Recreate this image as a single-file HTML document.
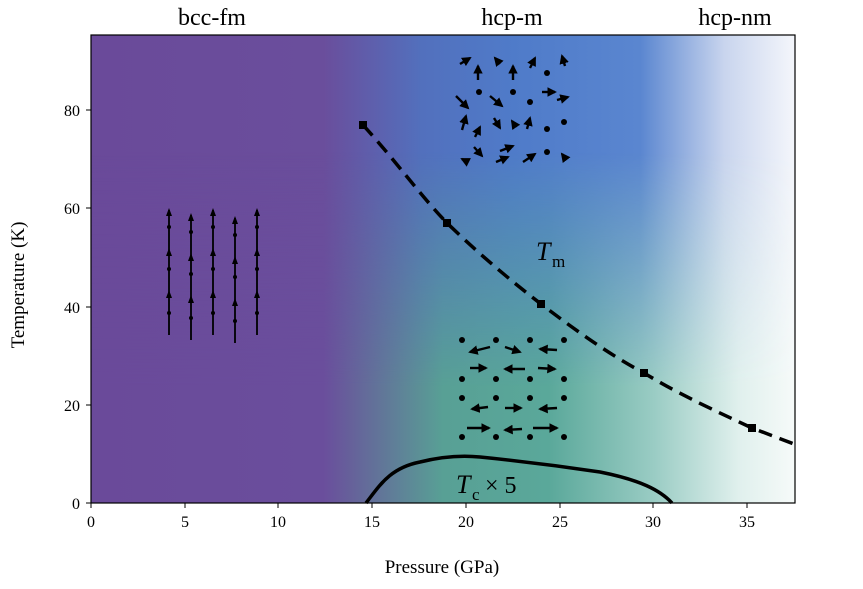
<!DOCTYPE html>
<html><head><style>body{margin:0;background:#fff}svg{display:block}text{font-family:"Liberation Serif",serif}</style></head><body>
<svg width="863" height="589" viewBox="0 0 863 589">
<defs>
<linearGradient id="top" x1="91" x2="795" gradientUnits="userSpaceOnUse">
<stop offset="0" stop-color="#6a4a9a"/><stop offset="0.33" stop-color="#6a4e9c"/><stop offset="0.47" stop-color="#5270bd"/><stop offset="0.6" stop-color="#4f7bc9"/><stop offset="0.78" stop-color="#5a86d0"/><stop offset="0.9" stop-color="#c9d5ee"/><stop offset="1" stop-color="#f4f6fb"/></linearGradient>
<linearGradient id="bot" x1="91" x2="795" gradientUnits="userSpaceOnUse">
<stop offset="0" stop-color="#6a4a9a"/><stop offset="0.33" stop-color="#6a4e9c"/><stop offset="0.5" stop-color="#58a095"/><stop offset="0.65" stop-color="#5aa89a"/><stop offset="0.8" stop-color="#9accc4"/><stop offset="0.92" stop-color="#e0f0ed"/><stop offset="1" stop-color="#f6faf9"/></linearGradient>
<linearGradient id="vm" x1="0" y1="35" x2="0" y2="503" gradientUnits="userSpaceOnUse"><stop offset="0.25" stop-color="#fff" stop-opacity="0"/><stop offset="0.75" stop-color="#fff" stop-opacity="1"/></linearGradient>
<mask id="m"><rect x="91" y="35" width="704" height="468" fill="url(#vm)"/></mask>
<marker id="ah" viewBox="0 0 10 10" refX="8" refY="5" markerWidth="4" markerHeight="4" orient="auto"><path d="M0,0L10,5L0,10z" fill="#000"/></marker>
</defs>
<rect x="91" y="35" width="704" height="468" fill="url(#top)"/>
<rect x="91" y="35" width="704" height="468" fill="url(#bot)" mask="url(#m)"/>
<rect x="91" y="35" width="704" height="468" fill="none" stroke="#000" stroke-width="1.2"/>
<g stroke="#000" stroke-width="1.8" fill="#000">
<g id="col"><line x1="169" y1="335" x2="169" y2="210"/>
<path d="M169,208l-3,8h6z M169,248l-3,8h6z M169,290l-3,8h6z" stroke="none"/>
<circle cx="169" cy="227" r="2" stroke="none"/><circle cx="169" cy="269" r="2" stroke="none"/><circle cx="169" cy="313" r="2" stroke="none"/></g>
<use href="#col" x="22" y="5"/><use href="#col" x="44"/><use href="#col" x="66" y="8"/><use href="#col" x="88"/>
</g>
<g fill="#000" stroke="#000" stroke-width="2.4">
<line x1="460" y1="64" x2="470" y2="58" marker-end="url(#ah)"/><line x1="478" y1="80" x2="478" y2="66" marker-end="url(#ah)"/>
<line x1="500" y1="64" x2="495" y2="58" marker-end="url(#ah)"/><line x1="513" y1="80" x2="513" y2="66" marker-end="url(#ah)"/>
<line x1="530" y1="68" x2="535" y2="58" marker-end="url(#ah)"/><line x1="565" y1="66" x2="562" y2="56" marker-end="url(#ah)"/>
<circle cx="479" cy="92" r="3" stroke="none"/><circle cx="513" cy="92" r="3" stroke="none"/><circle cx="547" cy="73" r="3" stroke="none"/><circle cx="530" cy="102" r="3" stroke="none"/><circle cx="564" cy="122" r="3" stroke="none"/><circle cx="547" cy="129" r="3" stroke="none"/><circle cx="547" cy="152" r="3" stroke="none"/>
<line x1="456" y1="96" x2="468" y2="108" marker-end="url(#ah)"/><line x1="490" y1="96" x2="502" y2="106" marker-end="url(#ah)"/>
<line x1="542" y1="92" x2="555" y2="92" marker-end="url(#ah)"/><line x1="557" y1="100" x2="568" y2="97" marker-end="url(#ah)"/>
<line x1="462" y1="130" x2="466" y2="116" marker-end="url(#ah)"/><line x1="494" y1="118" x2="500" y2="128" marker-end="url(#ah)"/>
<line x1="475" y1="137" x2="480" y2="127" marker-end="url(#ah)"/><line x1="516" y1="127" x2="512" y2="121" marker-end="url(#ah)"/>
<line x1="527" y1="129" x2="530" y2="118" marker-end="url(#ah)"/><line x1="474" y1="147" x2="482" y2="156" marker-end="url(#ah)"/>
<line x1="500" y1="151" x2="513" y2="146" marker-end="url(#ah)"/><line x1="523" y1="162" x2="535" y2="154" marker-end="url(#ah)"/>
<line x1="466" y1="161" x2="462" y2="159" marker-end="url(#ah)"/><line x1="496" y1="162" x2="508" y2="157" marker-end="url(#ah)"/>
<line x1="565" y1="158" x2="562" y2="154" marker-end="url(#ah)"/>
</g>
<g fill="#000" stroke="#000" stroke-width="2.4">
<g stroke="none"><circle cx="462" cy="340" r="3"/><circle cx="496" cy="340" r="3"/><circle cx="530" cy="340" r="3"/><circle cx="564" cy="340" r="3"/>
<circle cx="462" cy="379" r="3"/><circle cx="496" cy="379" r="3"/><circle cx="530" cy="379" r="3"/><circle cx="564" cy="379" r="3"/>
<circle cx="462" cy="398" r="3"/><circle cx="496" cy="398" r="3"/><circle cx="530" cy="398" r="3"/><circle cx="564" cy="398" r="3"/>
<circle cx="462" cy="437" r="3"/><circle cx="496" cy="437" r="3"/><circle cx="530" cy="437" r="3"/><circle cx="564" cy="437" r="3"/></g>
<line x1="490" y1="347" x2="470" y2="352" marker-end="url(#ah)"/><line x1="505" y1="347" x2="520" y2="352" marker-end="url(#ah)"/><line x1="557" y1="350" x2="540" y2="349" marker-end="url(#ah)"/>
<line x1="470" y1="368" x2="486" y2="368" marker-end="url(#ah)"/><line x1="525" y1="369" x2="505" y2="369" marker-end="url(#ah)"/><line x1="538" y1="368" x2="555" y2="369" marker-end="url(#ah)"/>
<line x1="488" y1="407" x2="472" y2="409" marker-end="url(#ah)"/><line x1="505" y1="408" x2="521" y2="408" marker-end="url(#ah)"/><line x1="557" y1="408" x2="540" y2="409" marker-end="url(#ah)"/>
<line x1="467" y1="428" x2="489" y2="428" marker-end="url(#ah)"/><line x1="522" y1="429" x2="505" y2="430" marker-end="url(#ah)"/><line x1="533" y1="428" x2="557" y2="428" marker-end="url(#ah)"/>
</g>
<path d="M363,125 C395,160 420,195 447,223 C480,255 510,280 541,304 C575,330 610,355 644,373 C680,395 720,413 752,428 L794,444" fill="none" stroke="#000" stroke-width="3.5" stroke-dasharray="14,8"/>
<g fill="#000"><rect x="359" y="121" width="8" height="8"/><rect x="443" y="219" width="8" height="8"/><rect x="537" y="300" width="8" height="8"/><rect x="640" y="369" width="8" height="8"/><rect x="748" y="424" width="8" height="8"/></g>
<path d="M366,503 C380,485 390,468 420,462 C440,457 460,455 480,457 C520,461 560,466 600,472 C640,480 660,490 672,503" fill="none" stroke="#000" stroke-width="3.5"/>
<text x="536" y="260" font-size="26" font-style="italic">T</text><text x="552" y="267" font-size="17">m</text>
<text x="456" y="493" font-size="26" font-style="italic">T</text><text x="472" y="500" font-size="17">c</text><text x="485" y="493" font-size="24">× 5</text>
<g font-size="24" text-anchor="middle"><text x="212" y="25">bcc-fm</text><text x="512" y="25">hcp-m</text><text x="735" y="25">hcp-nm</text></g>
<g stroke="#000" stroke-width="1"><line x1="91" y1="503" x2="91" y2="508"/><line x1="185" y1="503" x2="185" y2="508"/><line x1="278" y1="503" x2="278" y2="508"/><line x1="372" y1="503" x2="372" y2="508"/><line x1="466" y1="503" x2="466" y2="508"/><line x1="560" y1="503" x2="560" y2="508"/><line x1="653" y1="503" x2="653" y2="508"/><line x1="747" y1="503" x2="747" y2="508"/>
<line x1="86" y1="503" x2="91" y2="503"/><line x1="86" y1="405" x2="91" y2="405"/><line x1="86" y1="307" x2="91" y2="307"/><line x1="86" y1="208" x2="91" y2="208"/><line x1="86" y1="110" x2="91" y2="110"/></g>
<g font-size="16" text-anchor="middle"><text x="91" y="527">0</text><text x="185" y="527">5</text><text x="278" y="527">10</text><text x="372" y="527">15</text><text x="466" y="527">20</text><text x="560" y="527">25</text><text x="653" y="527">30</text><text x="747" y="527">35</text></g>
<g font-size="16" text-anchor="end"><text x="80" y="509">0</text><text x="80" y="411">20</text><text x="80" y="313">40</text><text x="80" y="214">60</text><text x="80" y="116">80</text></g>
<text x="442" y="573" font-size="19" text-anchor="middle">Pressure (GPa)</text>
<text transform="translate(24,285) rotate(-90)" font-size="19" text-anchor="middle">Temperature (K)</text>
</svg></body></html>
